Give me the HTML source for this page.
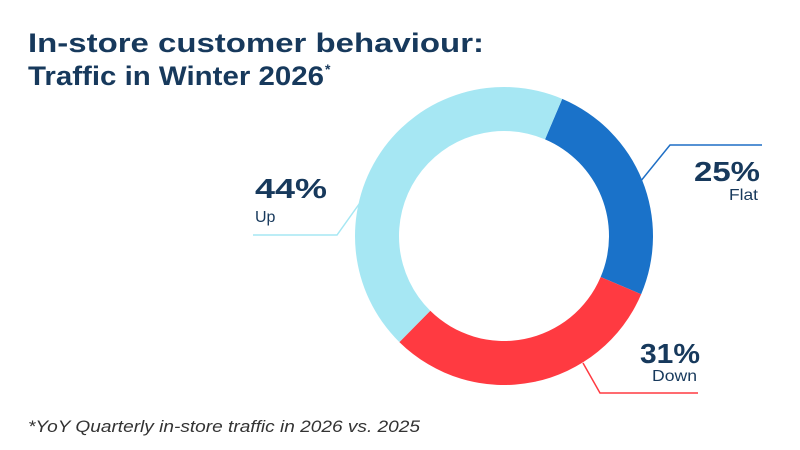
<!DOCTYPE html>
<html><head><meta charset="utf-8"><style>
body{margin:0;background:#fff;}
svg{display:block;font-family:"Liberation Sans",sans-serif;}
</style></head><body>
<svg width="800" height="450" viewBox="0 0 800 450">
<rect width="800" height="450" fill="#fff"/>
<text x="28" y="52" font-size="27" font-weight="bold" fill="#17395c" textLength="456" lengthAdjust="spacingAndGlyphs">In-store customer behaviour:</text>
<text x="28" y="85" font-size="27" font-weight="bold" fill="#17395c" textLength="296" lengthAdjust="spacingAndGlyphs">Traffic in Winter 2026</text>
<text x="325" y="74" font-size="14" font-weight="bold" fill="#17395c">*</text>
<polyline points="253,235 337,235 362,200" fill="none" stroke="#a6e7f3" stroke-width="1.5"/>
<polyline points="627,198 670,145 762,145" fill="none" stroke="#1f6fc5" stroke-width="1.5"/>
<polyline points="583,363 600,393 698,393" fill="none" stroke="#ff3a41" stroke-width="1.5"/>
<path id="p1" fill="#1a72c9"/>
<path id="p2" fill="#ff3a41"/>
<path id="p3" fill="#a6e7f3"/>
<text x="255" y="198" font-size="28" font-weight="bold" fill="#17395c" textLength="72" lengthAdjust="spacingAndGlyphs">44%</text>
<text x="255" y="222" font-size="16" fill="#17395c">Up</text>
<text x="694" y="181" font-size="28" font-weight="bold" fill="#17395c" textLength="66" lengthAdjust="spacingAndGlyphs">25%</text>
<text x="729" y="200" font-size="16" fill="#17395c" textLength="29" lengthAdjust="spacingAndGlyphs">Flat</text>
<text x="640" y="363" font-size="28" font-weight="bold" fill="#17395c" textLength="60" lengthAdjust="spacingAndGlyphs">31%</text>
<text x="652" y="381" font-size="16" fill="#17395c" textLength="45" lengthAdjust="spacingAndGlyphs">Down</text>
<text x="28" y="432" font-size="17" font-style="italic" fill="#333" textLength="392" lengthAdjust="spacingAndGlyphs">*YoY Quarterly in-store traffic in 2026 vs. 2025</text>
</svg>
<script>
function arc(a0,a1){var cx=504,cy=236,R=149,r=105;function p(rad,a){a=(a-90)*Math.PI/180;return [cx+rad*Math.cos(a),cy+rad*Math.sin(a)];}
var l=(a1-a0)>180?1:0,A=p(R,a0),B=p(R,a1),C=p(r,a1),D=p(r,a0);
return "M"+A+" A"+R+","+R+" 0 "+l+" 1 "+B+" L"+C+" A"+r+","+r+" 0 "+l+" 0 "+D+" Z";}
document.getElementById("p1").setAttribute("d",arc(23,113));
document.getElementById("p2").setAttribute("d",arc(113,224.6));
document.getElementById("p3").setAttribute("d",arc(224.6,383));
</script>
</body></html>
